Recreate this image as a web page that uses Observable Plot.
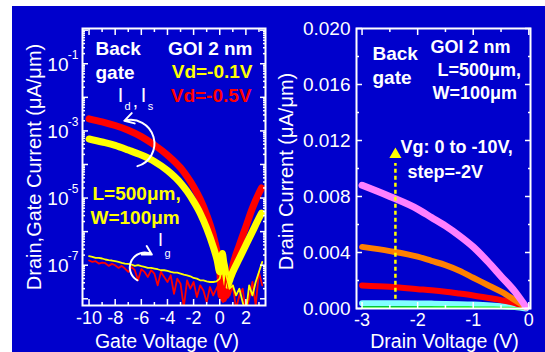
<!DOCTYPE html>
<html><head><meta charset="utf-8">
<script src="https://cdn.jsdelivr.net/npm/d3@7"></script>
<script src="https://cdn.jsdelivr.net/npm/@observablehq/plot@0.6"></script>
<style>
html,body{margin:0;padding:0;background:#fff;}
#wrap{position:relative;width:545px;height:352px;overflow:hidden;}
#bg{position:absolute;left:12px;top:6px;width:533px;height:346px;background:#0000cc;}
#left{position:absolute;left:0;top:0;width:275px;height:352px;}
#right{position:absolute;left:275px;top:0;width:270px;height:352px;}
svg{overflow:visible;}
</style></head><body>
<div id="wrap"><div id="bg"></div><div id="left"></div><div id="right"></div></div>
<script>
// ---------- Left panel: Id, Is, Ig vs gate voltage (log10 of current, µA/µm) ----------
const gateV      = [-10,-9,-8,-7,-6,-5,-4,-3,-2.5,-2,-1.5,-1,-0.5,-0.2,0,0.1,0.2,0.3,0.4,0.5,0.6,0.8,1,1.5,2,2.5,3,3.2];
const idVd05Log  = [-2.64,-2.73,-2.84,-2.98,-3.17,-3.42,-3.72,-4.1,-4.36,-4.66,-5.03,-5.5,-6.1,-6.6,-7.1,-7.9,-7.3,-8.0,-7.5,-7.9,-7.35,-7.35,-7.0,-6.4,-5.85,-5.3,-4.85,-4.7];
const idVd01Log  = [-3.24,-3.33,-3.43,-3.57,-3.72,-3.91,-4.18,-4.55,-4.8,-5.1,-5.45,-5.9,-6.45,-6.85,-7.2,-7.0,-6.65,-6.9,-7.1,-7.4,-7.6,-7.4,-7.2,-6.8,-6.4,-6.0,-5.6,-5.45];
const igGateV    = [-10,-9.75,-9.5,-9.25,-9,-8.75,-8.5,-8.25,-8,-7.75,-7.5,-7.25,-7,-6.75,-6.5,-6.25,-6,-5.75,-5.5,-5.25,-5,-4.75,-4.5,-4.25,-4,-3.75,-3.5,-3.25,-3,-2.75,-2.5,-2.25,-2,-1.75,-1.5,-1.25,-1,-0.75,-0.5,-0.25,0,0.25,0.5,0.75,1,1.25,1.5,1.75,2,2.25,2.5,2.75,3,3.25];
const igVd05Log  = [-6.86,-6.9,-6.88,-6.95,-6.92,-6.94,-7.02,-6.96,-7.0,-7.08,
                    -7.02,-7.1,-7.2,-7.05,-7.15,-7.45,-7.12,-7.2,-7.35,-7.15,
                    -7.25,-7.6,-7.2,-7.35,-7.5,-7.3,-7.85,-7.4,-7.55,-8.25,
                    -7.45,-7.7,-7.5,-7.95,-7.6,-7.75,-8.1,-7.65,-7.9,-7.7,
                    -7.5,-8.1,-7.3,-7.9,-7.6,-8.3,-7.9,-7.7,-8.4,-8.0,
                    -7.5,-8.2,-7.2,-7.6];
const igVd01Log  = [-6.73,-6.75,-6.78,-6.78,-6.80,-6.83,-6.85,-6.86,-6.88,-6.90,
                    -6.93,-6.95,-6.96,-6.98,-7.02,-7.0,-7.03,-7.05,-7.08,-7.08,
                    -7.1,-7.12,-7.15,-7.15,-7.17,-7.2,-7.22,-7.22,-7.25,-7.28,
                    -7.3,-7.33,-7.38,-7.4,-7.45,-7.45,-7.48,-7.5,-7.5,-7.48,
                    -7.4,-7.0,-7.3,-7.7,-7.6,-7.9,-7.7,-8.1,-8.4,-7.6,
                    -7.9,-7.5,-7.2,-6.9];
const leftXTicks  = [-10,-8,-6,-4,-2,0,2];
const leftXMinor  = [-9,-7,-5,-3,-1,1,3];
const leftYDecades = [-8,-7,-6,-5,-4,-3,-2,-1,0];
const leftYLabelExp = [-1,-3,-5,-7];
const leftYDomainLog = [-8.2, 0.05];
// curved arrows (gate sweep direction): start/end in data units
const sweepArrowFromV   = [-6.3, -6.3];
const sweepArrowFromLog = [-4.05, -7.45];
const sweepArrowToV     = [-7.3, -5.2];
const sweepArrowToLog   = [-2.7, -6.68];

// ---------- Right panel: Id vs drain voltage ----------
const drainV = [-3,-2.5,-2,-1.75,-1.5,-1.25,-1,-0.75,-0.5,-0.25,-0.05];
const idVg0  = [0.00008,0.00008,0.00008,0.00008,0.00007,0.00007,0.00006,0.00005,0.00004,0.00002,0];
const idVg2  = [0.00038,0.00037,0.00036,0.00035,0.00033,0.00031,0.00028,0.00023,0.00017,0.0001,0];
const idVg4  = [0.00165,0.00155,0.00138,0.0013,0.0012,0.00107,0.00093,0.00077,0.0006,0.00038,0.0001];
const idVg6  = [0.0044,0.0041,0.0037,0.0034,0.0031,0.0027,0.0022,0.0017,0.0012,0.0006,0.0001];
const idVg8  = [0.0088,0.0080,0.0071,0.0065,0.0059,0.0052,0.0044,0.0034,0.0023,0.0012,0.0001];
const rightXTicks = [-3,-2,-1,0];
const rightXMinor = [-2.5,-1.5,-0.5];
const rightYTicks = [0,0.004,0.008,0.012,0.016,0.020];
const rightYMinor = [0.002,0.006,0.010,0.014,0.018];
const vgArrowV = [-2.4];
const vgArrowFrom = [0.0007];
const vgArrowTo = [0.0110];

const FONT = "Liberation Sans, Arial, Helvetica, sans-serif";
const BLUE_STYLE = {background: "transparent", color: "white", fontFamily: FONT, fontSize: "19px", overflow: "visible"};

function label(text, dx, dy, o = {}) {
  return Plot.text([text], {text: d => d, frameAnchor: "top-left", dx, dy, fill: "white",
    fontSize: 19, fontWeight: "bold", textAnchor: "start", lineAnchor: "middle", ...o});
}

const minorLogTicks = leftYDecades.flatMap(e => [2,3,4,5,6,7,8,9].map(m => m * 10 ** e))
  .filter(v => Math.log10(v) >= leftYDomainLog[0] && Math.log10(v) <= leftYDomainLog[1]);
const majorLogTicks = leftYDecades.map(e => 10 ** e)
  .filter(v => Math.log10(v) >= leftYDomainLog[0] && Math.log10(v) <= leftYDomainLog[1]);

function frameTicks(xMajor, xMinor, yMajor, yMinor) {
  const o = {tickFormat: () => "", strokeWidth: 1.5};
  return [
    Plot.axisX({...o, anchor: "bottom", ticks: xMajor, tickSize: -6}),
    Plot.axisX({...o, anchor: "bottom", ticks: xMinor, tickSize: -3}),
    Plot.axisX({...o, anchor: "top", ticks: xMajor, tickSize: -6}),
    Plot.axisX({...o, anchor: "top", ticks: xMinor, tickSize: -3}),
    Plot.axisY({...o, anchor: "left", ticks: yMajor, tickSize: -6}),
    Plot.axisY({...o, anchor: "left", ticks: yMinor, tickSize: -3}),
    Plot.axisY({...o, anchor: "right", ticks: yMajor, tickSize: -6}),
    Plot.axisY({...o, anchor: "right", ticks: yMinor, tickSize: -3})
  ];
}

const left = Plot.plot({
  width: 275, height: 352,
  marginLeft: 82, marginRight: 10, marginTop: 28, marginBottom: 47,
  style: BLUE_STYLE,
  x: {domain: [-10.5, 3.5]},
  y: {type: "log", domain: leftYDomainLog.map(e => 10 ** e)},
  marks: [
    Plot.line(gateV, {x: d => d, y: (d, i) => 10 ** idVd05Log[i], stroke: "#ff0000", strokeWidth: 7, curve: "monotone-x", clip: true}),
    Plot.line(gateV, {x: d => d, y: (d, i) => 10 ** idVd01Log[i], stroke: "#ffff00", strokeWidth: 7, curve: "monotone-x", clip: true}),
    Plot.line(igGateV, {x: d => d, y: (d, i) => 10 ** igVd05Log[i], stroke: "#ff0000", strokeWidth: 1.8, clip: true}),
    Plot.line(igGateV, {x: d => d, y: (d, i) => 10 ** igVd01Log[i], stroke: "#ffff00", strokeWidth: 1.8, clip: true}),
    Plot.arrow([0], {x1: () => sweepArrowFromV[0], y1: () => 10 ** sweepArrowFromLog[0],
      x2: () => sweepArrowToV[0], y2: () => 10 ** sweepArrowToLog[0], bend: -90, stroke: "white", strokeWidth: 2, headLength: 8}),
    Plot.arrow([0], {x1: () => sweepArrowFromV[1], y1: () => 10 ** sweepArrowFromLog[1],
      x2: () => sweepArrowToV[1], y2: () => 10 ** sweepArrowToLog[1], bend: 90, stroke: "white", strokeWidth: 2, headLength: 8}),
    ...frameTicks(leftXTicks, leftXMinor, majorLogTicks, minorLogTicks),
    Plot.frame({stroke: "white", strokeWidth: 2}),
    Plot.text(leftXTicks, {x: d => d, frameAnchor: "bottom", lineAnchor: "middle", textAnchor: "middle", dy: 13, text: d => String(d), fill: "white", fontSize: 18}),
    Plot.text(leftYLabelExp, {y: d => 10 ** d, frameAnchor: "left", lineAnchor: "middle", dx: -14, dy: 1, text: () => "10", textAnchor: "end", fill: "white", fontSize: 19}),
    Plot.text(leftYLabelExp, {y: d => 10 ** d, frameAnchor: "left", lineAnchor: "middle", dx: -4, dy: -9, text: d => String(d), textAnchor: "end", fill: "white", fontSize: 12}),
    Plot.text(["Gate Voltage (V)"], {text: d => d, frameAnchor: "bottom", lineAnchor: "middle", textAnchor: "middle", dx: -7, dy: 36, fill: "white", fontSize: 19.5}),
    Plot.text(["Drain,Gate Current (\u03bcA/\u03bcm)"], {text: d => d, frameAnchor: "left", lineAnchor: "middle", textAnchor: "middle", dx: -48, rotate: -90, fill: "white", fontSize: 20}),
    label("Back", 13, 20),
    label("gate", 13, 44),
    label("GOI 2 nm", 170, 20, {textAnchor: "end"}),
    label("Vd=-0.1V", 170, 43, {textAnchor: "end", fill: "#ffff00"}),
    label("Vd=-0.5V", 169, 67, {textAnchor: "end", fill: "#ff0000"}),
    label("L=500\u03bcm,", 10, 165, {fill: "#ffff00"}),
    label("W=100\u03bcm", 8, 189, {fill: "#ffff00"}),
    label("I", 38, 67, {fontWeight: "normal", fontSize: 20, textAnchor: "middle"}),
    label("d", 45, 78, {fontWeight: "normal", fontSize: 11, textAnchor: "middle"}),
    label(",", 53, 72, {fontWeight: "normal", fontSize: 19, textAnchor: "middle"}),
    label("I", 61, 67, {fontWeight: "normal", fontSize: 20, textAnchor: "middle"}),
    label("s", 68, 78, {fontWeight: "normal", fontSize: 11, textAnchor: "middle"}),
    label("I", 78, 212, {fontWeight: "normal", fontSize: 18, textAnchor: "middle"}),
    label("g", 85, 225, {fontWeight: "normal", fontSize: 11, textAnchor: "middle"})
  ]
});
document.getElementById("left").appendChild(left);

const right = Plot.plot({
  width: 270, height: 352,
  marginLeft: 81, marginRight: 15, marginTop: 28, marginBottom: 44,
  style: BLUE_STYLE,
  x: {domain: [-3.1, 0.03]},
  y: {domain: [0, 0.02]},
  marks: [
    Plot.line(drainV, {x: d => d, y: (d, i) => idVg2[i], stroke: "#80ffff", strokeWidth: 6, curve: "monotone-x"}),
    Plot.line(drainV, {x: d => d, y: (d, i) => idVg0[i], stroke: "#00ee00", strokeWidth: 2.5, curve: "monotone-x"}),
    Plot.line(drainV, {x: d => d, y: (d, i) => idVg4[i], stroke: "#ff0000", strokeWidth: 6, curve: "monotone-x"}),
    Plot.line(drainV, {x: d => d, y: (d, i) => idVg6[i], stroke: "#ff8000", strokeWidth: 6, curve: "monotone-x"}),
    Plot.line(drainV, {x: d => d, y: (d, i) => idVg8[i], stroke: "#ff80ff", strokeWidth: 7, curve: "monotone-x"}),
    Plot.link(vgArrowV, {x1: d => d, x2: d => d, y1: (d, i) => vgArrowFrom[i], y2: (d, i) => vgArrowTo[i] - 0.0006,
      stroke: "#ffff00", strokeWidth: 2.5, strokeDasharray: "4,3"}),
    Plot.dot(vgArrowV, {x: d => d, y: (d, i) => vgArrowTo[i], symbol: "triangle", r: 4.5, fill: "#ffff00", stroke: null}),
    ...frameTicks(rightXTicks, rightXMinor, rightYTicks, rightYMinor),
    Plot.frame({stroke: "white", strokeWidth: 2}),
    Plot.text(rightXTicks, {x: d => d, frameAnchor: "bottom", lineAnchor: "middle", textAnchor: "middle", dy: 12, text: d => String(d), fill: "white", fontSize: 18}),
    Plot.text(rightYTicks, {y: d => d, frameAnchor: "left", lineAnchor: "middle", dx: -6, text: d => d.toFixed(3), textAnchor: "end", fill: "white", fontSize: 19}),
    Plot.text(["Drain Voltage (V)"], {text: d => d, frameAnchor: "bottom", lineAnchor: "middle", textAnchor: "middle", dx: 1, dy: 33, fill: "white", fontSize: 19.5}),
    Plot.text(["Drain Current (\u03bcA/\u03bcm)"], {text: d => d, frameAnchor: "left", lineAnchor: "middle", textAnchor: "middle", dx: -70, dy: 3, rotate: -90, fill: "white", fontSize: 20}),
    label("Back", 16, 25),
    label("gate", 16, 49),
    label("GOI 2 nm", 74, 19, {fontSize: 18}),
    label("L=500\u03bcm,", 81, 42, {fontSize: 18}),
    label("W=100\u03bcm", 76, 65, {fontSize: 18}),
    label("Vg: 0 to -10V,", 44, 119, {fontSize: 18}),
    label("step=-2V", 51, 144, {fontSize: 18})
  ]
});
document.getElementById("right").appendChild(right);
</script>
</body></html>
